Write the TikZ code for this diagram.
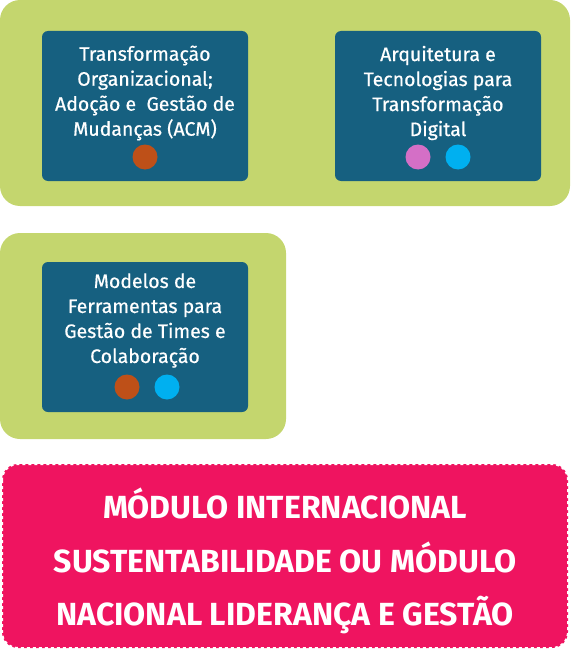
\documentclass[tikz,border=0pt]{standalone}
\usepackage{fontspec}
\setmainfont{Fira Sans}
\newfontfamily\tilefont{Fira Sans}[FakeBold=0.6]
\definecolor{panelgreen}{RGB}{196,214,110}
\definecolor{tileblue}{RGB}{22,96,128}
\definecolor{modpink}{RGB}{239,20,96}
\definecolor{dotrust}{RGB}{190,80,24}
\definecolor{dotorchid}{RGB}{212,111,198}
\definecolor{dotsky}{RGB}{0,176,240}
\begin{document}
\begin{tikzpicture}[x=1pt, y=-1pt, line join=round, line cap=round,
	panel/.style={fill=panelgreen, rounded corners=20pt},
	tile/.style={fill=tileblue, rounded corners=6pt},
	tiletext/.style={text=white, align=center, font=\tilefont\fontsize{19.5}{25}\selectfont},
	dot/.style={circle, inner sep=0pt, minimum size=25pt, fill=#1}]
			\useasboundingbox (0,0) rectangle (570,650);
			% painel de cima
			\fill[panel] (0,0) rectangle (570,206);
			\fill[tile] (42,31) rectangle (248,181);
			\fill[tile] (335,31) rectangle (541,181);
			\node[tiletext] (org) at (145,93) {Transformação\\Organizacional;\\Adoção e~ Gestão de\\Mudanças (ACM)};
			\node[dot=dotrust] (orgA) at (145,157) {};
			\node[tiletext] (arq) at (438,93) {Arquitetura e\\Tecnologias para\\Transformação\\Digital};
			\node[dot=dotorchid] (arqA) at (418,157) {};
			\node[dot=dotsky] (arqB) at (458,157) {};
			% painel do meio
			\fill[panel] (0,233) rectangle (286,439);
			\fill[tile] (42,262) rectangle (248,412);
			\node[tiletext] (ferr) at (145,320.5) {Modelos de\\Ferramentas para\\Gestão de Times e\\Colaboração};
			\node[dot=dotrust] (ferrA) at (127,387) {};
			\node[dot=dotsky] (ferrB) at (167,387) {};
			% modulo
			\fill[modpink, rounded corners=16pt] (2,464) rectangle (568,648);
			\draw[white, line width=2pt, dash pattern=on 3pt off 3pt, line cap=butt, rounded corners=16pt] (2,464) rectangle (568,648);
			\node[text=white, align=center, font=\fontsize{32}{53.5}\selectfont\bfseries] (mod) at (285,561) {MÓDULO INTERNACIONAL\\SUSTENTABILIDADE OU MÓDULO\\NACIONAL LIDERANÇA E GESTÃO};
		\end{tikzpicture}
\end{document}
